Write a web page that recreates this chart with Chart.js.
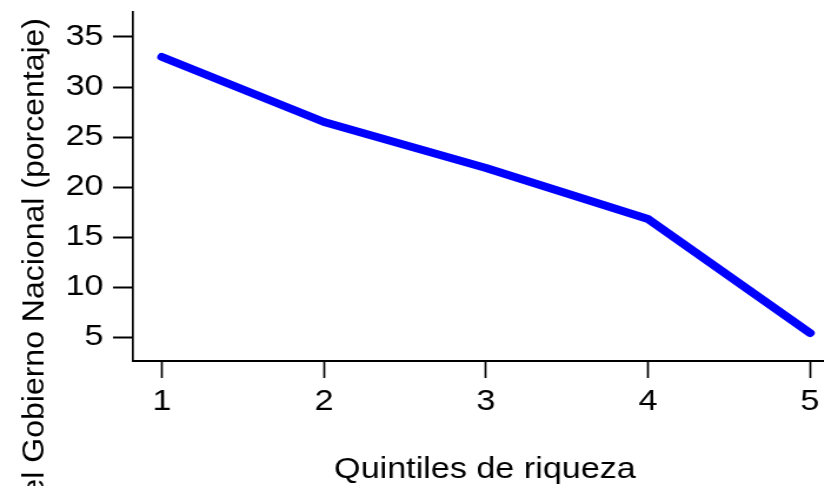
<!DOCTYPE html>
<html>
<head>
<meta charset="utf-8">
<script src="https://cdn.jsdelivr.net/npm/chart.js@4"></script>
<style>
  html, body { margin: 0; padding: 0; background: #fff; overflow: hidden; }
  /* the original picture is stretched sideways, so the canvas is too */
  #wrap { width: 700px; height: 486px; transform: scale(1.177, 1); transform-origin: 0 0; }
</style>
</head>
<body>
<div id="wrap"><canvas id="gastoChart" width="700" height="486"></canvas></div>
<script>
// ## DATA ##
const quintiles = [1, 2, 3, 4, 5];
const gastoPct = [33.0, 26.5, 21.9, 16.8, 5.4];
const xTickValues = [1, 2, 3, 4, 5];
const yTickValues = [5, 10, 15, 20, 25, 30, 35];
const xTitle = "Quintiles de riqueza";
const yTitle = "del Gobierno Nacional (porcentaje)";

const FONT = "'Liberation Sans', Arial, Helvetica, sans-serif";

// axis titles drawn by hand (the y one runs off the bottom in the original)
const axisTitles = {
  id: "axisTitles",
  afterDraw(chart) {
    const ctx = chart.ctx;
    ctx.save();
    ctx.fillStyle = "#000";
    ctx.textBaseline = "alphabetic";
    ctx.font = "29px " + FONT;
    ctx.textAlign = "center";
    ctx.fillText(xTitle, 412, 478);

    ctx.translate(36.5, 18);
    ctx.scale(0.8, 1);
    ctx.rotate(-Math.PI / 2);
    ctx.font = "32px " + FONT;
    ctx.textAlign = "right";
    ctx.fillText(yTitle, 0, 0);
    ctx.restore();
  },
};

function createGastoChart() {
  const ctx = document.getElementById("gastoChart").getContext("2d");
  window.gastoChart = new Chart(ctx, {
    type: "line",
    data: {
      datasets: [
        {
          label: "Gasto",
          data: quintiles.map((q, i) => ({ x: q, y: gastoPct[i] })),
          borderColor: "#0000ff",
          backgroundColor: "#0000ff",
          borderWidth: 8,
          borderCapStyle: "round",
          borderJoinStyle: "round",
          pointRadius: 0,
          tension: 0,
          fill: false,
        },
      ],
    },
    options: {
      responsive: false,
      animation: false,
      devicePixelRatio: 1,
      layout: { padding: { top: 12, left: 0, right: 0, bottom: 0 } },
      plugins: {
        legend: { display: false },
        tooltip: { enabled: false },
      },
      scales: {
        x: {
          type: "linear",
          min: 0.821,
          max: 5.086,
          afterBuildTicks: (scale) => {
            scale.ticks = xTickValues.map((v) => ({ value: v }));
          },
          afterFit: (scale) => {
            scale.height = 125;
            scale.paddingLeft = 0;
            scale.paddingRight = 0;
          },
          ticks: {
            color: "#000",
            padding: 7,
            maxRotation: 0,
            font: { family: FONT, size: 29 },
          },
          grid: {
            drawOnChartArea: false,
            tickLength: 17,
            tickColor: "#000",
            tickWidth: 1.7,
          },
          border: { display: true, color: "#000", width: 2 },
        },
        y: {
          min: 2.6,
          max: 37.5,
          afterBuildTicks: (scale) => {
            scale.ticks = yTickValues.map((v) => ({ value: v }));
          },
          afterFit: (scale) => {
            scale.width = 113;
            scale.paddingTop = 0;
            scale.paddingBottom = 0;
          },
          ticks: {
            color: "#000",
            padding: 8,
            font: { family: FONT, size: 29 },
          },
          grid: {
            drawOnChartArea: false,
            tickLength: 17,
            tickColor: "#000",
            tickWidth: 2,
          },
          border: { display: true, color: "#000", width: 1.7 },
        },
      },
    },
    plugins: [axisTitles],
  });
}

createGastoChart();
</script>
</body>
</html>
